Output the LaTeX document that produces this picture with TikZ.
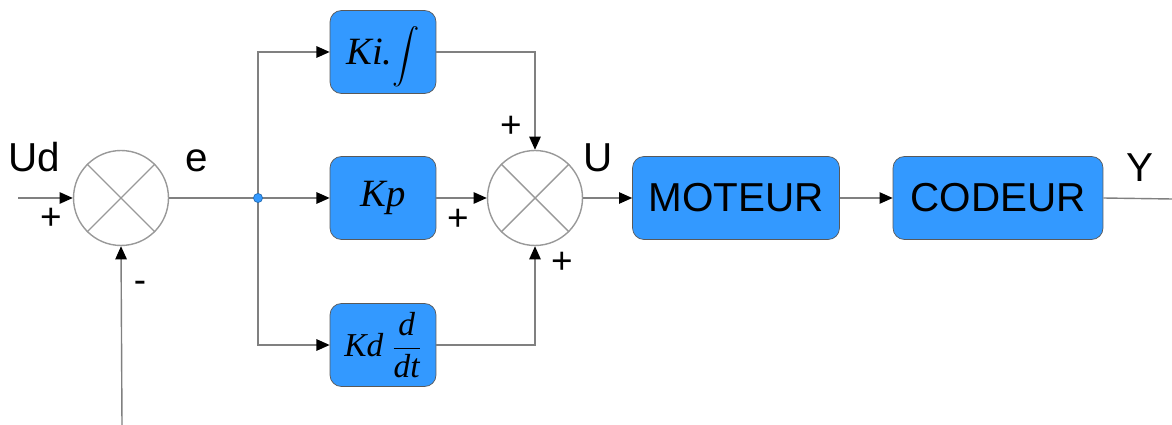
\documentclass[tikz,border=0pt]{standalone}
\usepackage{fontspec}
\setmainfont{Liberation Sans}
\newfontfamily\tms{Liberation Serif}
\usetikzlibrary{arrows.meta}
\definecolor{Blu}{HTML}{3399FF}
\definecolor{Wire}{HTML}{808080}
\begin{document}
\begin{tikzpicture}[x=0.02cm,y=-0.02cm,
  b/.style={draw=black!65,fill=Blu,rounded corners=6.5pt,minimum width=2.12cm,minimum height=1.66cm,inner sep=0pt,align=center},
  s/.style={circle,draw=black!40,line width=0.8pt,minimum size=1.9cm,inner sep=0pt},
  a/.style={-{Triangle[length=7.5pt,width=6.5pt,color=black]},draw=Wire,line width=0.8pt},
  l/.style={draw=Wire,line width=0.8pt},
  t/.style={font=\fontsize{23}{27}\selectfont,anchor=base},
  sg/.style={font=\fontsize{21}{24}\selectfont}]
  \useasboundingbox (0,0) rectangle (1172,425);
  % sommateurs
  \node[s] (s1) at (121,198) {}; \node[s] (s2) at (535,198) {};
  \draw[black!40,line width=0.8pt] (s1.north west)--(s1.south east) (s1.north east)--(s1.south west);
  \draw[black!40,line width=0.8pt] (s2.north west)--(s2.south east) (s2.north east)--(s2.south west);
  % correcteur PID
  \node[b] (ki) at (383,52) {{\tms\itshape\fontsize{22}{26}\selectfont Ki.}\raisebox{0.5pt}[0pt][0pt]{\scalebox{1.55}{$\displaystyle\int$}}};
  \node[b] (kp) at (383,198) {{\tms\itshape\fontsize{22}{26}\selectfont Kp}};
  \node[b] (kd) at (383,345) {{\tms\itshape\fontsize{19}{22}\selectfont Kd $\displaystyle\frac{\hbox{\tms\itshape d}}{\hbox{\tms\itshape dt}}$}};
  % procede
  \node[b,minimum width=4.14cm,font=\fontsize{23}{27}\selectfont] (mot) at (736,198) {MOTEUR};
  \node[b,minimum width=4.2cm,font=\fontsize{23}{27}\selectfont] (cod) at (998,198) {CODEUR};
  \coordinate (in) at (18,198); \coordinate (fb) at (122,425);
  \coordinate (j) at (258,198); \coordinate (out) at (1172,199);
  \draw[a](in)--(s1.west); \draw[a](fb)--(s1.south);
  \draw[l](s1.east)--(j);
  \draw[a](j)|-(ki.west); \draw[a](j)--(kp.west); \draw[a](j)|-(kd.west);
  \draw[a](ki.east)-|(s2.north); \draw[a](kp.east)--(s2.west); \draw[a](kd.east)-|(s2.south);
  \draw[a](s2.east)--(mot.west); \draw[a](mot.east)--(cod.west); \draw[l](cod.east)--(out);
  \fill[Blu,draw=Blu!70!black,line width=0.4pt] (j) circle (2.6pt);
  % etiquettes
  \node[t] (ud) at (34,172) {Ud}; \node[t] (e) at (197,172) {e};
  \node[t] (u) at (598,172) {U}; \node[t] (y) at (1140,182) {Y};
  \node[sg] (p1) at (51,219) {+}; \node[sg] (m1) at (140,287) {-};
  \node[sg] (p2) at (511,127) {+}; \node[sg] (p3) at (458,220) {+}; \node[sg] (p4) at (562,263) {+};
\end{tikzpicture}
\end{document}
